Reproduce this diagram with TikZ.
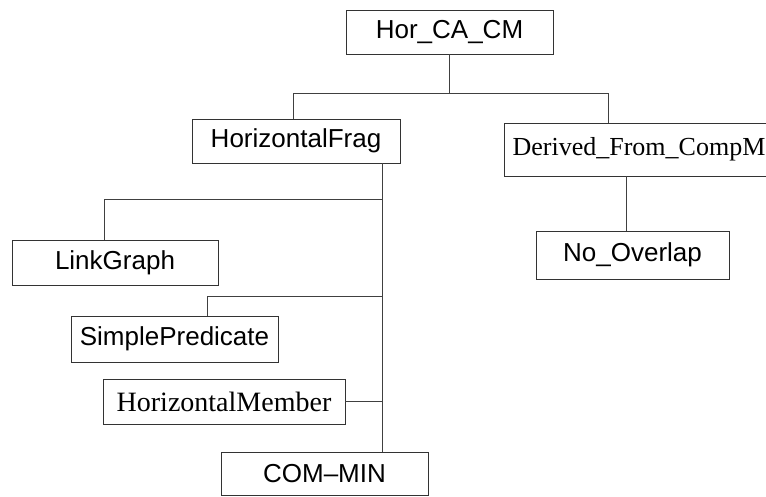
\documentclass[tikz,border=0pt]{standalone}
\usepackage{fontspec}
\setmainfont{Liberation Serif}
\newfontfamily\sansfnt{Liberation Sans}
\begin{document}
\begin{tikzpicture}[x=1pt,y=-1pt,
  box/.style={draw=black!80, line width=0.8pt, inner sep=0pt, outer sep=0pt, minimum width=#1},
  box/.default=207pt,
  sanslabel/.style={font=\sansfnt\fontsize{26}{30}\selectfont},
  seriflabel/.style={font=\fontsize{26}{30}\selectfont},
  link/.style={draw=black!75, line width=0.7pt}]
\useasboundingbox (0,0) rectangle (766,496);
\clip (0,0) rectangle (766,496);

% class boxes
\node[box, sanslabel, minimum height=44pt] (top) at (449.5,32) {Hor\_CA\_CM};
\node[box=208pt, sanslabel, minimum height=44pt] (frag) at (296,141) {HorizontalFrag};
\node[box=270pt, seriflabel, minimum height=53pt] (derived) at (639,149.5) {Derived\_From\_CompM};
\node[box=193pt, sanslabel, minimum height=48pt] (nooverlap) at (632.5,255) {No\_Overlap};
\node[box=206pt, sanslabel, minimum height=45pt] (linkgraph) at (115,262.5) {LinkGraph};
\node[box, sanslabel, minimum height=46pt] (simple) at (174.5,339) {SimplePredicate\hspace{16pt}};
\node[box=242pt, seriflabel, font=\fontsize{28}{30}\selectfont, minimum height=45pt] (member) at (224,401.5) {HorizontalMember};
\node[box, sanslabel, minimum height=43pt] (commin) at (324.5,473.5) {COM\textendash MIN};

% branch points
\coordinate (busL) at (293,93);
\coordinate (busR) at (608,93);
\coordinate (trunk) at (382,0);
\coordinate (linkbus) at (104,199);
\coordinate (simplebus) at (207,296);
\coordinate (drop) at (626,0);

% Hor_CA_CM to its two children
\draw[link] (top.south) -- (top.south |- busL);
\draw[link] (busL) -- (busR);
\draw[link] (busL) -- (busL |- frag.north);
\draw[link] (busR) -- (busR |- derived.north);

% HorizontalFrag trunk and its branches
\draw[link] (trunk |- frag.south) -- (trunk |- commin.north);
\draw[link] (linkbus) -- (trunk |- linkbus);
\draw[link] (linkbus) -- (linkbus |- linkgraph.north);
\draw[link] (simplebus) -- (trunk |- simplebus);
\draw[link] (simplebus) -- (simplebus |- simple.north);
\draw[link] (member.east) -- (trunk |- member.east);

% Derived_From_CompM to No_Overlap
\draw[link] (drop |- derived.south) -- (drop |- nooverlap.north);
\end{tikzpicture}
\end{document}
